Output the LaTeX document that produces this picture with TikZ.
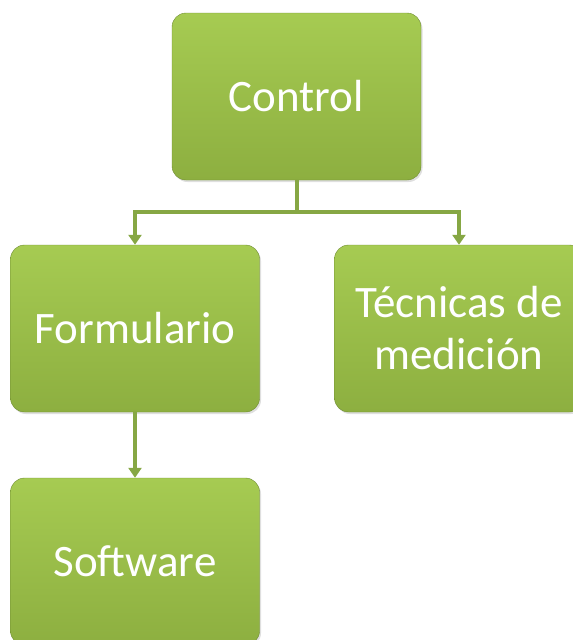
\documentclass[tikz,border=0pt]{standalone}
\usepackage{fontspec}
\setmainfont{Carlito}
\usetikzlibrary{arrows.meta}
\usetikzlibrary{positioning}
\usetikzlibrary{shadows}
\definecolor{boxtop}{HTML}{A6CB52}
\definecolor{boxbot}{HTML}{8DAF40}
\definecolor{boxline}{HTML}{6F8C33}
\definecolor{linkgreen}{HTML}{86A744}
\tikzset{
    stepbox/.style={
           rectangle,
           rounded corners=14pt,
           draw=boxline, thin,
           top color=boxtop, bottom color=boxbot,
           drop shadow={opacity=0.25,shadow xshift=1.5pt,shadow yshift=-2pt},
           minimum width=249pt,
           minimum height=167pt,
           inner sep=2pt,
           text=white,
           align=center,
           font=\fontsize{45}{52}\selectfont,
           },
    link/.style={
           draw=linkgreen, line width=4pt,
           },
}

\begin{document}
\begin{tikzpicture}[x=1pt,y=-1pt,>={Triangle[width=13pt,length=10pt]}]

    \useasboundingbox (0,0) rectangle (573,640);

    \node[stepbox] at (296.5,96.5)
        (Control) {Control};
    \node[stepbox] at (135,328.5)
        (Formulario) {Formulario};
    \node[stepbox,right of=Formulario,node distance=324pt]
        (Tecnicas) {Técnicas de\\medición};
    \node[stepbox,below of=Formulario,node distance=233pt]
        (Software) {Software};

    \coordinate (split) at (296.5,212);

    \draw[link] (Control) -- (split);
    \draw[link,->] (split) -| (Formulario);
    \draw[link,->] (split) -| (Tecnicas);
    \draw[link,->] (Formulario) -- (Software);

\end{tikzpicture}
\end{document}
